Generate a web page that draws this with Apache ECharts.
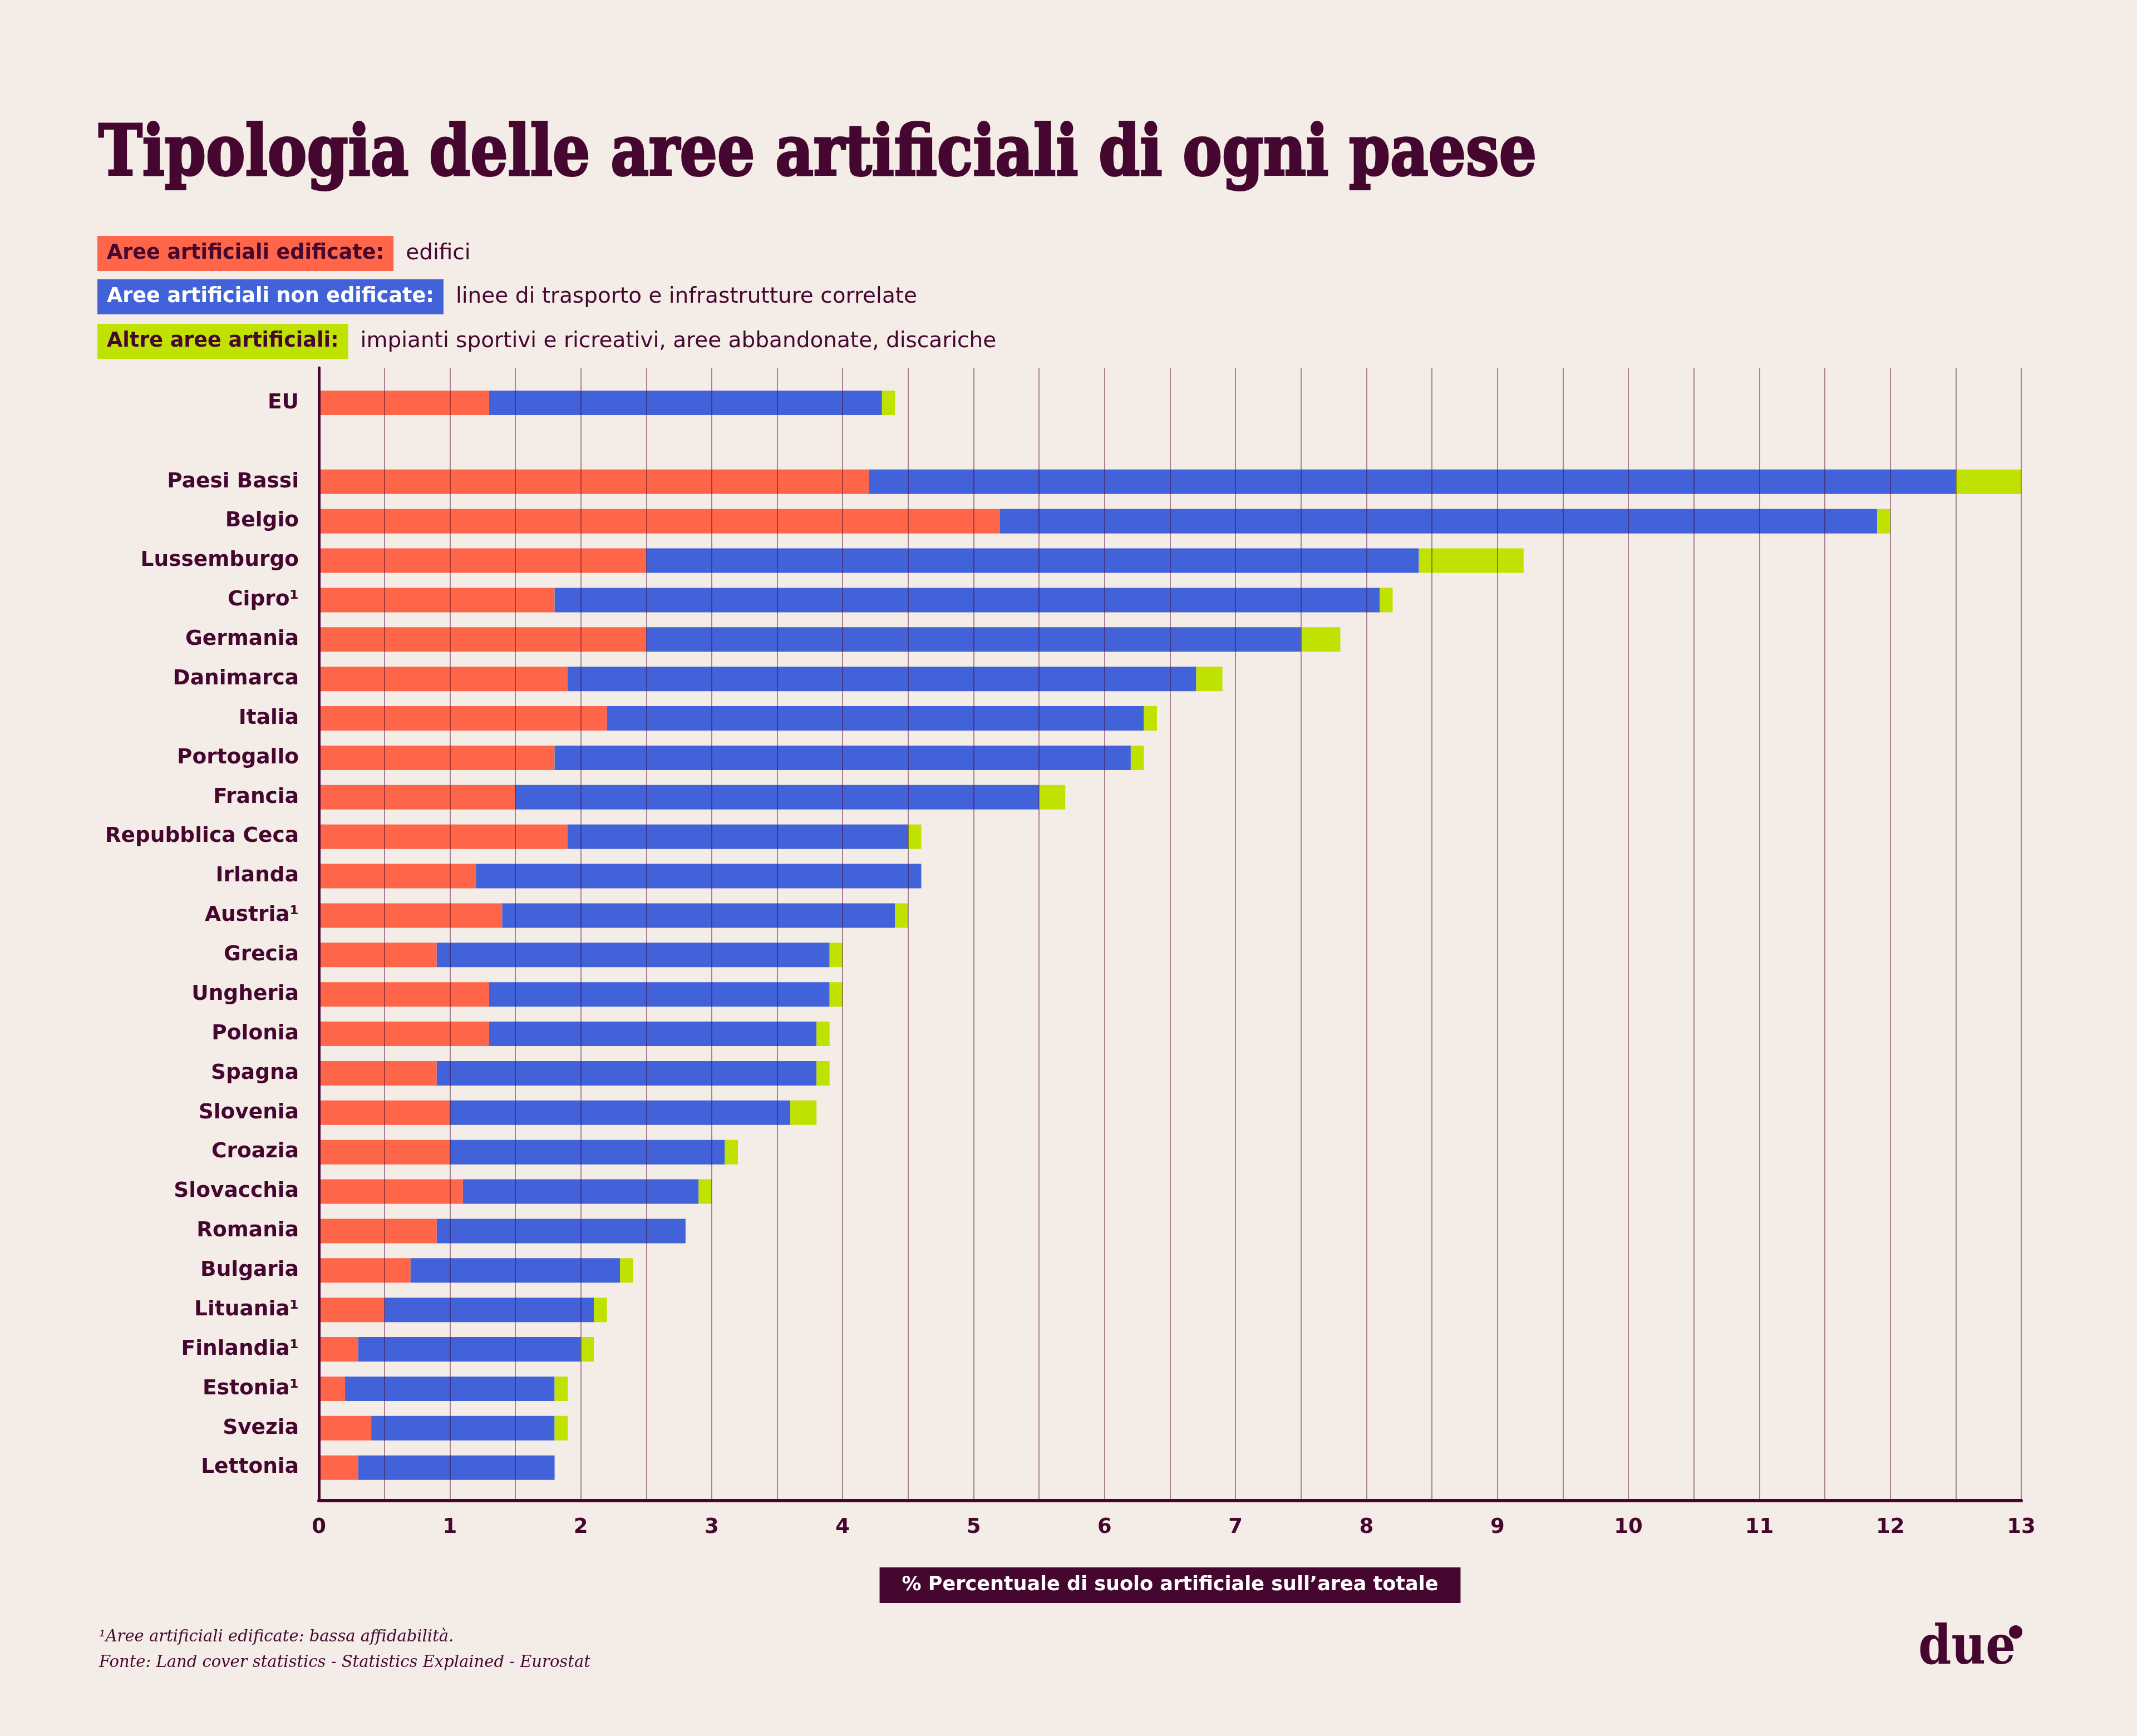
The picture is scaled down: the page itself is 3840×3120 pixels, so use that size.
<!DOCTYPE html>
<html>
<head>
<meta charset="utf-8">
<script src="https://cdn.jsdelivr.net/npm/echarts@6/dist/echarts.min.js"></script>
<style>
html,body{margin:0;padding:0;background:#F4ECE7;}
#chart{width:3840px;height:3120px;}
</style>
</head>
<body>
<div id="chart"></div>
<script>
const categories = ['EU', '', 'Paesi Bassi', 'Belgio', 'Lussemburgo', 'Cipro¹', 'Germania', 'Danimarca', 'Italia', 'Portogallo', 'Francia', 'Repubblica Ceca', 'Irlanda', 'Austria¹', 'Grecia', 'Ungheria', 'Polonia', 'Spagna', 'Slovenia', 'Croazia', 'Slovacchia', 'Romania', 'Bulgaria', 'Lituania¹', 'Finlandia¹', 'Estonia¹', 'Svezia', 'Lettonia'];
const edificate = [1.3, null, 4.2, 5.2, 2.5, 1.8, 2.5, 1.9, 2.2, 1.8, 1.5, 1.9, 1.2, 1.4, 0.9, 1.3, 1.3, 0.9, 1.0, 1.0, 1.1, 0.9, 0.7, 0.5, 0.3, 0.2, 0.4, 0.3];
const nonEdificate = [3.0, null, 8.3, 6.7, 5.9, 6.3, 5.0, 4.8, 4.1, 4.4, 4.0, 2.6, 3.4, 3.0, 3.0, 2.6, 2.5, 2.9, 2.6, 2.1, 1.8, 1.9, 1.6, 1.6, 1.7, 1.6, 1.4, 1.5];
const altre = [0.1, null, 0.5, 0.1, 0.8, 0.1, 0.3, 0.2, 0.1, 0.1, 0.2, 0.1, 0, 0.1, 0.1, 0.1, 0.1, 0.1, 0.2, 0.1, 0.1, 0, 0.1, 0.1, 0.1, 0.1, 0.1, 0];
const seriesNames = ['Aree artificiali edificate:', 'Aree artificiali non edificate:', 'Altre aree artificiali:'];
const seriesDescs = ['edifici', 'linee di trasporto e infrastrutture correlate', 'impianti sportivi e ricreativi, aree abbandonate, discariche'];
const xMin = 0, xMax = 13;
const titleText = 'Tipologia delle aree artificiali di ogni paese';
const axisName = '% Percentuale di suolo artificiale sull\u2019area totale';
const footnotes = ['\u00B9Aree artificiali edificate: bassa affidabilit\u00E0.', 'Fonte: Land cover statistics - Statistics Explained - Eurostat'];

const DARK = '#45072F';
const BG = '#F4ECE7';
const colors = ['#FF6549', '#4262D9', '#BFE200'];
const boxText = [DARK, '#FFFFFF', DARK];

const mctx = document.createElement('canvas').getContext('2d');
function tw(text, font) { mctx.font = font; return mctx.measureText(text).width; }

const SANS = "'DejaVu Sans'";
const SERIF = "'DejaVu Serif'";

const titleFont = 'bold 126px ' + SERIF;
const titleScale = 2584 / tw(titleText, titleFont);

const graphics = [];
graphics.push({
  type: 'text', x: 177, y: 281, scaleX: titleScale, scaleY: 1,
  style: { text: titleText, font: titleFont, fill: DARK, stroke: DARK, lineWidth: 4, align: 'left', verticalAlign: 'middle' }
});

const legFont = 'bold 36.5px ' + SANS;
const descFont = '39px ' + SANS;
const rowTops = [424, 502, 582];
seriesNames.forEach((name, i) => {
  const w = tw(name, legFont) + 34;
  graphics.push({ type: 'rect', shape: { x: 175, y: rowTops[i], width: w, height: 63 }, style: { fill: colors[i] } });
  graphics.push({ type: 'text', x: 175 + 17, y: rowTops[i] + 32,
    style: { text: name, font: legFont, fill: boxText[i], align: 'left', verticalAlign: 'middle' } });
  graphics.push({ type: 'text', x: 175 + w + 22, y: rowTops[i] + 32,
    style: { text: seriesDescs[i], font: descFont, fill: DARK, align: 'left', verticalAlign: 'middle' } });
});

const footFont = 'italic 29px ' + SERIF;
graphics.push({ type: 'text', x: 178, y: 2942, style: { text: footnotes[0], font: footFont, fill: DARK, align: 'left', verticalAlign: 'middle' } });
graphics.push({ type: 'text', x: 178, y: 2988, style: { text: footnotes[1], font: footFont, fill: DARK, align: 'left', verticalAlign: 'middle' } });

const logoFont = 'bold 98px ' + SERIF;
const logoScale = 175 / tw('due', logoFont);
graphics.push({ type: 'text', x: 3447, y: 2965, scaleX: logoScale, scaleY: 1,
  style: { text: 'due', font: logoFont, fill: DARK, align: 'left', verticalAlign: 'middle' } });
graphics.push({ type: 'circle', shape: { cx: 3622, cy: 2933, r: 12 }, style: { fill: DARK } });

const chart = echarts.init(document.getElementById('chart'), null, { renderer: 'canvas' });

const option = {
  backgroundColor: BG,
  animation: false,
  graphic: graphics,
  grid: [
    { left: 573, right: 208, top: 661, bottom: 423, containLabel: false },
    { left: 573, right: 208, top: 688.6, bottom: 446.9, containLabel: false }
  ],
  xAxis: [
    {
      type: 'value', gridIndex: 0, min: xMin, max: xMax, interval: 0.5, z: 3,
      axisLine: { show: true, lineStyle: { color: DARK, width: 6 } },
      axisTick: { show: false },
      axisLabel: {
        show: true, color: DARK, fontFamily: 'DejaVu Sans', fontWeight: 'bold', fontSize: 37, margin: 30,
        formatter: v => (Number.isInteger(v) ? String(v) : '')
      },
      splitLine: { show: true, lineStyle: { color: 'rgba(69,7,47,0.45)', width: 2 } },
      name: axisName, nameLocation: 'middle', nameGap: 120,
      nameTextStyle: {
        color: '#FFFFFF', fontFamily: 'DejaVu Sans', fontWeight: 'bold', fontSize: 35,
        backgroundColor: DARK, padding: [14, 40, 14, 40], lineHeight: 36, verticalAlign: 'top'
      }
    },
    { type: 'value', gridIndex: 1, min: xMin, max: xMax, show: false }
  ],
  yAxis: [
    {
      type: 'value', gridIndex: 0, min: 0, max: 1, z: 3,
      axisLine: { show: true, onZero: false, lineStyle: { color: DARK, width: 5 } },
      axisTick: { show: false }, axisLabel: { show: false }, splitLine: { show: false }
    },
    {
      type: 'category', gridIndex: 1, data: categories, inverse: true,
      axisLine: { show: false }, axisTick: { show: false }, splitLine: { show: false },
      axisLabel: { color: DARK, fontFamily: 'DejaVu Sans', fontWeight: 'bold', fontSize: 37.5, margin: 36 }
    }
  ],
  series: [
    { name: seriesNames[0], type: 'bar', stack: 'tot', xAxisIndex: 1, yAxisIndex: 1, barWidth: 44, data: edificate, itemStyle: { color: colors[0] } },
    { name: seriesNames[1], type: 'bar', stack: 'tot', xAxisIndex: 1, yAxisIndex: 1, barWidth: 44, data: nonEdificate, itemStyle: { color: colors[1] } },
    { name: seriesNames[2], type: 'bar', stack: 'tot', xAxisIndex: 1, yAxisIndex: 1, barWidth: 44, data: altre, itemStyle: { color: colors[2] } }
  ]
};
chart.setOption(option);
</script>
</body>
</html>
